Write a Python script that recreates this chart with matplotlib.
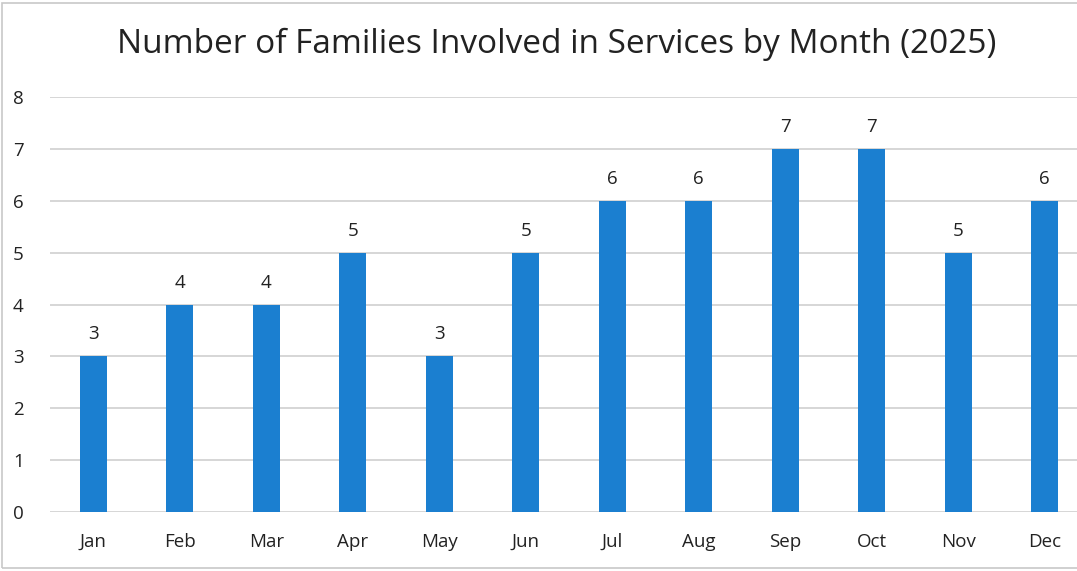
import matplotlib.pyplot as plt
from matplotlib.patches import Rectangle

# monthly counts (2025)
months = ["Jan", "Feb", "Mar", "Apr", "May", "Jun",
          "Jul", "Aug", "Sep", "Oct", "Nov", "Dec"]
families = [3, 4, 4, 5, 3, 5, 6, 6, 7, 7, 5, 6]
y_ticks = [0, 1, 2, 3, 4, 5, 6, 7, 8]

plt.rcParams['font.family'] = ['Open Sans', 'DejaVu Sans']

fig = plt.figure(figsize=(10.77, 5.71), dpi=100)
# plot area runs slightly past the right edge, like the scanned original
ax = fig.add_axes([50 / 1077, 1 - 512 / 571, 1038 / 1077, 415 / 571])

x = range(len(months))
bars = ax.bar(x, families, width=0.31, color='#1b7fd0', zorder=3)

# value labels above each bar
for b, v in zip(bars, families):
    ax.text(b.get_x() + b.get_width() / 2, v + 0.25, str(v),
            ha='center', va='bottom', fontsize=13.5, color='#222222')

ax.set_xlim(-0.5, len(months) - 0.5)
ax.set_ylim(0, 8)
ax.set_yticks(y_ticks)
ax.set_xticks(list(x))
ax.set_xticklabels(months)
ax.tick_params(axis='both', length=0, labelsize=13.5, colors='#222222')
ax.tick_params(axis='x', pad=15)
ax.tick_params(axis='y', pad=19)
ax.yaxis.grid(True, color='#cfcfcf', linewidth=1.2, zorder=0)
for s in ax.spines.values():
    s.set_visible(False)

fig.text(557 / 1077, 1 - 44 / 571, "Number of Families Involved in Services by Month (2025)",
         ha='center', va='center', fontsize=24, color='#222222')

# faint frame left by the scan
fig.patches.append(Rectangle((2 / 1077, 3 / 571), 1.2, 1 - 6 / 571,
                             transform=fig.transFigure, fill=False,
                             edgecolor='#c8c8c8', linewidth=1.2))

fig.savefig("out.png", dpi=100)
